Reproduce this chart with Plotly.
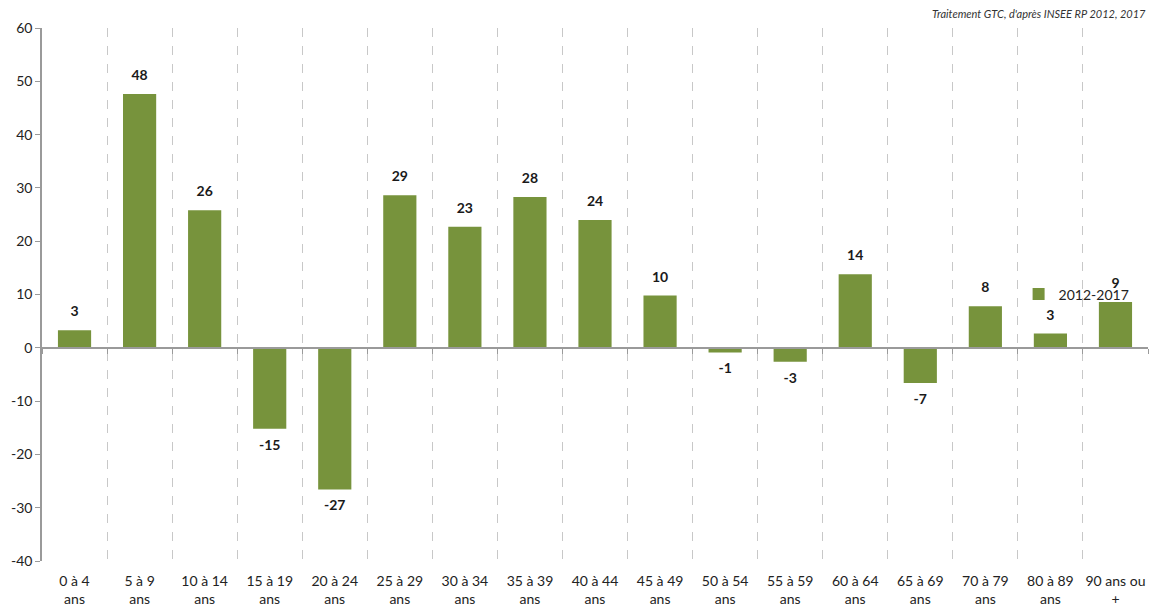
import plotly.graph_objects as go

categories = ["0 à 4<br>ans", "5 à 9<br>ans", "10 à 14<br>ans", "15 à 19<br>ans", "20 à 24<br>ans",
              "25 à 29<br>ans", "30 à 34<br>ans", "35 à 39<br>ans", "40 à 44<br>ans", "45 à 49<br>ans",
              "50 à 54<br>ans", "55 à 59<br>ans", "60 à 64<br>ans", "65 à 69<br>ans", "70 à 79<br>ans",
              "80 à 89<br>ans", "90 ans ou<br>+"]
values = [3.3, 47.6, 25.8, -15.2, -26.6, 28.6, 22.7, 28.3, 24.0, 9.8,
          -0.9, -2.6, 13.8, -6.6, 7.8, 2.7, 8.6]
series_name = "2012-2017"
source_text = "Traitement GTC, d'après INSEE RP 2012, 2017"
y_ticks = [-40, -30, -20, -10, 0, 10, 20, 30, 40, 50, 60]
y_tick_labels = ["-40", "-30", "-20", "-10", "0", "10", "20", "30", "40", "50", "60"]

FONT = "Lato, 'Open Sans', sans-serif"
GREEN = "#77933C"
XR = [-0.5, len(categories) - 0.5]

labels = [f"{round(v):d}" for v in values]
label_pos = ["top center" if v >= 0 else "bottom center" for v in values]

fig = go.Figure()
fig.add_trace(go.Bar(
    x=categories, y=values, name=series_name,
    marker=dict(color=GREEN, line=dict(width=0)),
    showlegend=True, hoverinfo="x+y",
))
# value labels, offset from bar ends by an invisible marker
fig.add_trace(go.Scatter(
    x=categories, y=values, mode="markers+text",
    text=labels, textposition=label_pos,
    marker=dict(size=15, opacity=0),
    textfont=dict(family=FONT, size=14, color="#1a1a1a", weight="bold"),
    showlegend=False, hoverinfo="skip", cliponaxis=False,
))
# invisible companion trace to drive the zero-line axis (ticks at boundaries)
fig.add_trace(go.Scatter(
    x=categories, y=values, xaxis="x2", mode="markers",
    marker=dict(opacity=0), showlegend=False, hoverinfo="skip",
))

fig.update_layout(
    width=1164, height=606,
    margin=dict(l=42, r=16, t=28, b=45),
    paper_bgcolor="white", plot_bgcolor="white",
    font=dict(family=FONT, size=14, color="#222"),
    bargap=0.49,
    xaxis=dict(
        type="category", tickson="boundaries", range=XR, tickangle=0,
        showgrid=True, gridcolor="#c8c8c8", griddash="dash", gridwidth=1,
        showline=False, ticks="", zeroline=False, automargin=False,
        ticklabelstandoff=10,
        tickfont=dict(family=FONT, size=14, color="#222"),
    ),
    xaxis2=dict(
        type="category", overlaying="x", anchor="free", position=0.4, range=XR,
        side="bottom", showline=True, linecolor="#9a9a9a", linewidth=1.5,
        ticks="outside", ticklen=5, tickcolor="#9a9a9a", tickson="boundaries",
        showticklabels=False, showgrid=False, zeroline=False,
    ),
    yaxis=dict(
        range=[-40, 60], tickvals=y_ticks, ticktext=y_tick_labels,
        showgrid=False, zeroline=False,
        showline=True, linecolor="#9a9a9a", linewidth=1.5,
        ticks="outside", ticklen=5, tickcolor="#9a9a9a",
        tickfont=dict(family=FONT, size=14, color="#222"),
    ),
    legend=dict(
        x=0.883, y=0.5, xanchor="left", yanchor="middle", itemwidth=30,
        bgcolor="rgba(0,0,0,0)", font=dict(family=FONT, size=14, color="#222"),
    ),
    annotations=[dict(
        text=source_text, xref="paper", yref="paper", x=1.0, y=1.0,
        xanchor="right", yanchor="bottom", yshift=6, showarrow=False,
        font=dict(family=FONT, size=11, color="#333", style="italic"),
    )],
)

fig.write_html("out.html")
